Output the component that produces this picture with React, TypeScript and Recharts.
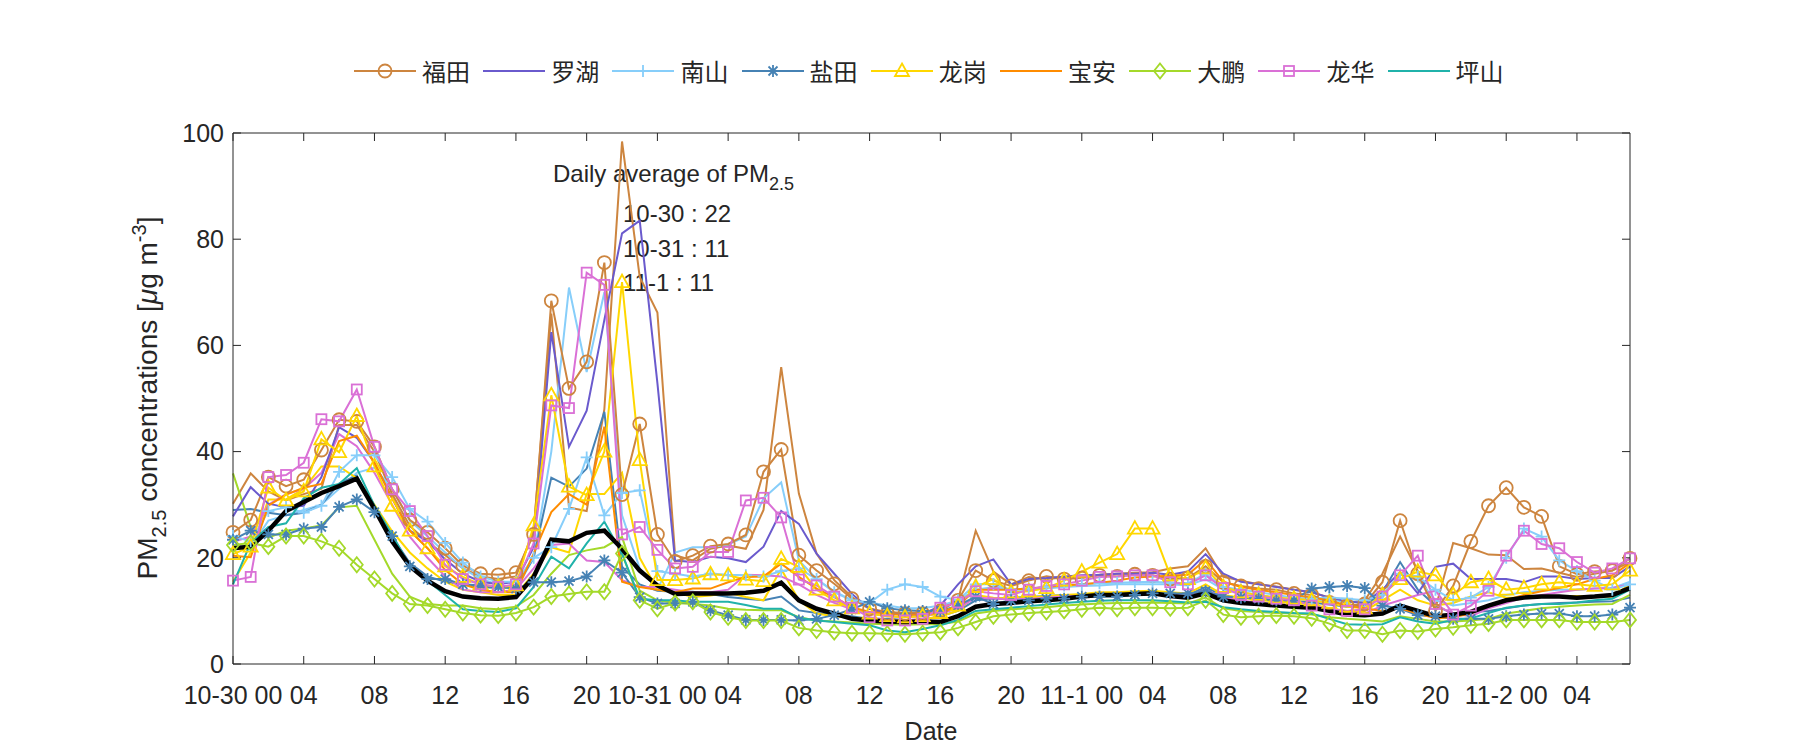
import React from 'react';
import { LineChart, Line, XAxis, YAxis, Customized } from 'recharts';

const FONT = '"Liberation Sans", Arial, sans-serif';
const CJK = '"Noto Sans CJK SC", sans-serif';
const INK = '#262626';

// hourly index from 10-30 00:00 to 11-2 07:00
const hours = Array.from({ length: 80 }, (_, i) => i);
const tickHours = [0, 4, 8, 12, 16, 20, 24, 28, 32, 36, 40, 44, 48, 52, 56, 60, 64, 68, 72, 76];
const tickLabels = [
  '10-30 00', '04', '08', '12', '16', '20',
  '10-31 00', '04', '08', '12', '16', '20',
  '11-1 00', '04', '08', '12', '16', '20',
  '11-2 00', '04',
];
const yTicks = [0, 20, 40, 60, 80, 100];

const futian = [
  24.8, 27.1, 35.2, 33.5, 34.7, 40.3, 46, 45.7, 40.9, 32.9, 27.1, 24.8, 21.8,
  18.5, 17, 16.8, 17.2,
  24.4, 68.4, 51.9, 56.9, 75.6, 31.9, 45.2, 24.4, 19.3,
  20.4, 22.2, 22.6, 24.3, 36.2, 40.4, 20.5, 17.6, 15.1, 12.3, 10.4, 9.5, 9.5, 9.5,
  10, 12, 17.6, 15.7, 14.7, 15.7, 16.5, 16, 16.2, 16.7, 16.5, 16.9, 16.7, 16, 16.2,
  18.4, 15.4, 14.7, 14.2, 14, 13.3, 13, 11.6, 11, 11.3, 15.4, 27, 17,
  10, 14.7, 23.1, 29.8, 33.2, 29.5, 27.8, 18.4, 16.9, 17.4, 17.6, 19.9,
];
const futianB = [
  30.2, 35.9, 32.5, 30.8, 32, 33, 45, 45, 40, 32, 26, 23, 20.5,
  18, 16.5, 16, 16.5,
  25.1, 66, 29.5, 28.8, 48, 98.4, 72.9, 66.2, 20.5,
  19.5, 21.7, 22.3, 21.7, 29, 55.9, 32.1, 20.8, 15.8, 12.6, 10.4, 9.8, 9.6, 9.7,
  10.5, 12, 25.1, 17.4, 15, 16.4, 16, 16.3, 16.5, 16.8, 17, 17.2, 17.3, 18, 18.4,
  21.8, 16.4, 15.7, 15, 14.6, 14, 13.5, 12.5, 11.5, 12, 17, 24, 17.5,
  10.5, 22.8, 21.8, 20.6, 20.5, 17.9, 18, 17.2, 16.4, 17, 17.6, 19.2,
];
const luohu = [
  27.8, 33.3, 30.2, 29.5, 29.8, 35.2, 44.6, 42.6, 37.9, 31.2, 25.1, 23.1, 19.7,
  17, 15.5, 15, 15.5,
  22, 62.5, 40.9, 47.7, 64.8, 81.1, 83.5, 52.9, 19.5,
  19.2, 20.2, 19.9, 19.2, 22.1, 28.8, 26.4, 20.8, 17, 13.2, 10.4, 9.5, 9.3, 9.3,
  11, 15, 18.4, 19.7, 15, 16, 16.2, 16.5, 16.7, 16.8, 17, 17, 17.2, 16.8, 17.4,
  20.7, 17, 15.5, 15, 14.5, 14, 13.5, 12.5, 11.8, 11.5, 14, 17.3, 13.3,
  18.3, 18.9, 16, 16, 16, 15.4, 16.5, 16.5, 16, 16.2, 16.2, 18.4,
];
const nanshan = [
  24.1, 23.1, 28.8, 29.5, 28.5, 29.8, 36.2, 39.3, 39.3, 35.2, 29.2, 26.8, 22.8,
  19.1, 16.5, 15.5, 15.5,
  20, 22, 29.2, 38.9, 28, 32.2, 32.7, 17.5, 17,
  16.5, 17, 16.8, 16.7, 16.5, 17.5, 18, 16, 13.5, 12, 11.5, 14, 15, 14.5,
  12.7, 12, 15, 15, 14, 14.2, 14.5, 14.8, 15, 15.2, 15.3, 15.4, 15.5, 15.3, 15.2,
  17, 14.5, 14, 13.5, 13, 12.5, 12.3, 12.5, 12.3, 12, 13, 17, 16.5,
  14, 12, 12.5, 14.5, 20, 25.5, 24, 19.5, 17.5, 15.7, 14, 15,
];
const nanshanB = [
  22, 22, 27, 28, 29, 30, 33, 36, 37, 33, 27, 24, 21,
  18, 16, 15, 14,
  20, 40, 70.9, 55, 70, 28, 18, 14, 21,
  22, 22, 22.5, 24, 31.2, 34.2, 19.5, 16, 13.7, 12, 11.6, 11, 10.5, 10.5,
  11, 12, 14, 14.5, 14, 14, 14.2, 14.5, 14.7, 14.8, 15, 15, 15, 15, 14.8,
  16, 14, 13.5, 13, 12.5, 12.2, 12, 12, 11.8, 11.5, 12.5, 17, 16,
  12, 11, 11.5, 12, 13, 13.5, 13.8, 14, 14, 14.2, 14.3, 15.5,
];
const yantian = [
  23.4, 25.1, 24.4, 24.4, 25.5, 25.8, 29.6, 31, 28.6, 24.1, 18.4, 16, 16,
  15, 14.8, 14.5, 14.2,
  15.4, 15.4, 15.6, 16.5, 19.5, 17.2, 12.6, 11.4, 11.4,
  11.7, 10.1, 9.2, 8.3, 8.3, 8.3, 8.2, 8.5, 9.2, 10.3, 11.7, 10.5, 10.1, 10,
  10, 11, 12.7, 11.3, 12, 12, 12.3, 12.3, 12.7, 12.7, 12.7, 13, 13.3, 13.3, 13.3,
  13.7, 12.7, 12.5, 12.3, 12, 12, 14.2, 14.5, 14.7, 14.3, 11, 10.4, 9.2,
  9, 8.5, 8.5, 8.5, 9, 9.3, 9.5, 9.5, 9, 9, 9.3, 10.6,
];
const yantianB = [
  29, 29.2, 28.5, 28, 28.5, 30, 34, 35.5, 29, 24, 19, 16.5, 15.5,
  15, 14.5, 14.3, 14.5,
  20, 35.1, 33.4, 36.8, 47.5, 18.3, 15, 13.8, 13.6,
  13.6, 13.2, 12.6, 12.3, 12, 12.7, 10.1, 9.6, 9.3, 9, 8.5, 8.5, 8.3, 8.3,
  9, 10, 12, 12.3, 12.5, 12.6, 12.8, 13, 13, 13.2, 13.3, 13.3, 13.4, 13.2, 13,
  14.5, 12.8, 12.5, 12.3, 12, 11.8, 11.6, 11.2, 10.8, 11, 13.5, 19.2, 14,
  11, 9.5, 9.8, 10, 10.5, 11, 11.3, 11.5, 11.6, 11.7, 11.8, 12.5,
];
const longgang = [
  20.7, 22.1, 33.2, 30.8, 32.5, 42.3, 39.9, 46.7, 37.2, 29.8, 25.1, 21.8, 18.4,
  16.4, 15, 14.5, 14.8,
  26.1, 50.6, 33.4, 31.8, 40, 71.9, 38.4, 15.8, 15.8,
  16.1, 16.9, 16.7, 15.9, 15.6, 19.8, 18.3, 14, 12, 10.5, 9.5, 9, 8.8, 9,
  9.6, 11, 14.5, 16, 13.5, 13.7, 14.3, 15.7, 17.4, 19.1, 20.7, 25.5, 25.5, 16.7, 16,
  18, 14.5, 13.5, 13, 12.5, 12.3, 12, 11.5, 10.8, 10.5, 13, 16, 17.4,
  16.7, 13, 15.4, 16, 14, 14.3, 15, 15.4, 15, 14.7, 15, 17.6,
];
const longgangB = [
  15.5, 21, 31, 31, 33, 37.2, 37.2, 35, 30, 25, 21, 18, 15.5,
  14, 13.5, 13, 13,
  17, 22, 21, 32, 32, 36, 20, 14, 13.5,
  12.6, 12.9, 13.4, 12.6, 12, 17.9, 12, 9.5, 9, 8.7, 8.5, 8.3, 8.2, 8.4,
  9, 10, 13, 12.5, 12.3, 12.5, 12.8, 13, 13.2, 13.5, 13.5, 13.7, 13.8, 13.5, 13.3,
  15, 13, 12.5, 12, 11.8, 11.5, 11.2, 10.5, 10, 10, 12, 14, 12,
  11, 11.5, 12.7, 13.5, 12.5, 12.5, 12.7, 12.8, 12.8, 12.7, 12.7, 15,
];
const baoan = [
  20.4, 20.1, 29.8, 31.9, 33.2, 33.9, 42, 43, 37.9, 31.2, 25.1, 21.8, 17.7,
  15, 14, 13.5, 13.5,
  20.8, 28.6, 32, 30, 44.7, 15.5, 14.5, 14, 13.5,
  14.2, 14.2, 15.4, 16.4, 16.5, 18.9, 16.4, 14.2, 12.6, 10.7, 9.8, 9.5, 9.2, 9.4,
  9.6, 11, 14, 14, 14, 14.2, 14.5, 14.8, 15, 15.3, 15.7, 16.3, 16.5, 16.6, 16.8,
  19.7, 15.5, 14.5, 14, 13.5, 13, 12.5, 12, 11, 10.5, 10, 10.5, 9.5,
  8.6, 8.8, 9.5, 11, 12, 13, 13.7, 14.3, 15, 16, 16.7, 19,
];
const dapeng = [
  22.4, 22.8, 22.1, 24.1, 24.1, 23.1, 21.8, 18.7, 16, 13.3, 11.3, 11, 10.3,
  9.6, 9.2, 9.1, 9.6,
  10.7, 12.7, 13.2, 13.6, 13.6, 20.8, 12, 10.4, 11.5,
  11.7, 9.8, 8.8, 8.2, 8.2, 8.2, 6.8, 6.3, 6, 5.8, 5.8, 5.7, 5.6, 5.8,
  6, 6.8, 7.9, 9, 9.3, 9.6, 9.8, 10, 10.3, 10.6, 10.4, 10.6, 10.6, 10.5, 10.6,
  12, 9.3, 8.8, 9, 9.1, 9, 8.6, 7.6, 6.3, 6.3, 5.6, 6.3, 6.1,
  6.6, 6.9, 7.3, 7.6, 8.3, 8.3, 8.3, 8.3, 7.9, 7.9, 7.9, 8.3,
];
const dapengB = [
  35.9, 25.8, 23.8, 25.1, 25.5, 26.1, 29.5, 29.8, 23.4, 17, 12.7, 11.3, 11,
  11, 10.5, 10.3, 10.8,
  13, 17, 20.5, 21.4, 22, 23.9, 13.8, 12, 11.5,
  11.3, 11, 10.4, 10.2, 10.1, 10.1, 8.8, 8.2, 8, 7.8, 7.6, 7.5, 7.4, 7.5,
  7.5, 8, 9.5, 10, 10.3, 10.5, 10.7, 11, 11.2, 11.4, 11.5, 11.5, 11.6, 11.5, 11.4,
  12.5, 10.5, 10, 9.8, 9.6, 9.5, 9.3, 8.8, 8.5, 8.3, 8, 9, 8.5,
  8, 8, 8.2, 8.5, 9.5, 10, 10.5, 10.8, 11, 11.2, 11.3, 13,
];
const longhua = [
  15.7, 16.4, 35.2, 35.6, 37.9, 46.1, 45.7, 51.7, 40.9, 32.9, 28.8, 24.1, 18.7,
  16, 15, 14.5, 15,
  22.7, 48.7, 48.2, 73.7, 71.4, 24.4, 25.8, 21.5, 18,
  18.3, 21.1, 21.1, 30.8, 31.3, 27.6, 15.9, 14.8, 12.7, 10.6, 8.8, 8.2, 8.2, 8.5,
  10.6, 11.6, 13.7, 13.3, 13, 14, 14.7, 15, 15.7, 16.4, 16.5, 16.7, 16.7, 15.4, 15,
  16.7, 14.3, 13, 12.7, 12.3, 12, 11, 10.3, 10, 10.3, 12.7, 16.7, 20.4,
  11.3, 9.3, 11, 13.8, 20.4, 25.1, 22.6, 21.8, 19.2, 17.2, 18, 19.9,
];
const longhuaB = [
  23, 24, 30, 32, 33, 36, 43.3, 41, 36, 30, 24, 20, 16.5,
  14, 13.5, 13.5, 14,
  18, 22.4, 22.7, 19.5, 19.2, 15.8, 14.5, 14.5, 14,
  13.5, 13.5, 14, 16.8, 16.7, 16.5, 15, 13, 11.5, 10.3, 9.5, 9, 8.8, 9,
  9.5, 10.5, 12.5, 12.3, 12.2, 12.3, 12.5, 12.7, 12.8, 13, 13, 13.2, 13.2, 13, 12.8,
  14, 12.5, 12, 11.5, 11.3, 11, 10.7, 10.3, 9.8, 9.5, 11, 12, 13,
  13.8, 9.5, 9, 10.5, 11.5, 12.5, 13, 13.5, 14, 14.2, 14.3, 15,
];
const pingshan = [
  15, 22.8, 25.8, 26.5, 31.2, 33.2, 33.9, 36.9, 29.8, 24.4, 18.4, 15.7, 13,
  10.3, 10, 9.8, 10.5,
  14.5, 20.2, 18, 22.7, 26.8, 20.8, 12.3, 12, 12,
  11.7, 11.7, 11.7, 11.1, 10.4, 10.4, 8.7, 8.2, 7.9, 7.6, 7.3, 6.3, 6, 6.6,
  7.3, 8.3, 10, 10.3, 10.6, 10.9, 11.2, 11.5, 11.7, 11.9, 12, 12, 12, 11.8, 11.6,
  11.7, 10.7, 10.3, 10, 9.8, 9.6, 9.5, 8.5, 7.5, 7.4, 7.5, 8.8, 8,
  7.6, 8.3, 8.6, 9.6, 10.6, 11, 11.3, 11.3, 11.6, 12, 12.3, 14,
];
const average = [
  21.8, 22.1, 25.1, 28.8, 30.5, 32.2, 33.5, 34.9, 29.2, 23.1, 18.4, 15.7, 13.7,
  12.7, 12.4, 12.3, 12.6,
  16.4, 23.4, 23.1, 24.7, 25.1, 21.7, 17.6, 14.8, 13.2,
  13.3, 13.3, 13.3, 13.4, 13.8, 15.3, 12, 10.4, 9.5, 8.5, 8.2, 8, 7.9, 8,
  7.9, 9, 10.8, 11.3, 11.5, 11.8, 12, 12.3, 12.7, 13, 13, 13.2, 13.3, 12.8, 12.5,
  13.3, 12, 11.5, 11.3, 11, 10.8, 10.6, 10, 9.3, 9.2, 9.5, 11, 10,
  9, 9.3, 9.8, 11, 12, 12.5, 12.7, 12.7, 12.5, 12.7, 13, 14.3,
];

type Shape = 'circle' | 'plus' | 'star' | 'triangle' | 'diamond' | 'square' | 'none';

interface SeriesDef {
  key: string;
  name?: string;
  color: string;
  marker: Shape;
  width: number;
  values: number[];
}

const GREEN = '#A4D92A';

// drawing order: extra stations first, named districts, then the average
const seriesDefs: SeriesDef[] = [
  { key: 'futianB', color: '#CD853F', marker: 'none', width: 2, values: futianB },
  { key: 'nanshanB', color: '#87CEFA', marker: 'none', width: 2, values: nanshanB },
  { key: 'yantianB', color: '#4682B4', marker: 'none', width: 2, values: yantianB },
  { key: 'longgangB', color: '#FFD700', marker: 'none', width: 2, values: longgangB },
  { key: 'dapengB', color: GREEN, marker: 'none', width: 2, values: dapengB },
  { key: 'longhuaB', color: '#DA70D6', marker: 'none', width: 2, values: longhuaB },
  { key: 'futian', name: '福田', color: '#CD853F', marker: 'circle', width: 2, values: futian },
  { key: 'luohu', name: '罗湖', color: '#6A5ACD', marker: 'none', width: 2, values: luohu },
  { key: 'nanshan', name: '南山', color: '#87CEFA', marker: 'plus', width: 2, values: nanshan },
  { key: 'yantian', name: '盐田', color: '#4682B4', marker: 'star', width: 2, values: yantian },
  { key: 'longgang', name: '龙岗', color: '#FFD700', marker: 'triangle', width: 2, values: longgang },
  { key: 'baoan', name: '宝安', color: '#FF8C00', marker: 'none', width: 2, values: baoan },
  { key: 'dapeng', name: '大鹏', color: GREEN, marker: 'diamond', width: 2, values: dapeng },
  { key: 'longhua', name: '龙华', color: '#DA70D6', marker: 'square', width: 2, values: longhua },
  { key: 'pingshan', name: '坪山', color: '#20B2AA', marker: 'none', width: 2, values: pingshan },
  { key: 'avg', color: '#000000', marker: 'none', width: 4.5, values: average },
];

const rows = hours.map((h, i) => {
  const row: Record<string, number> = { h };
  seriesDefs.forEach(s => { row[s.key] = s.values[i]; });
  return row;
});

const fmtHour = (v: number) => tickLabels[tickHours.indexOf(v)] ?? '';

function Marker({ shape, cx, cy, color }: { shape: Shape; cx: number; cy: number; color: string }) {
  const common = { fill: 'none', stroke: color, strokeWidth: 1.8 };
  switch (shape) {
    case 'circle':
      return <circle cx={cx} cy={cy} r={6.5} {...common} />;
    case 'square':
      return <rect x={cx - 5} y={cy - 5} width={10} height={10} {...common} />;
    case 'triangle':
      return <path d={`M${cx},${cy - 7.5} L${cx + 7},${cy + 5} L${cx - 7},${cy + 5} Z`} {...common} />;
    case 'diamond':
      return <path d={`M${cx},${cy - 7.5} L${cx + 6},${cy} L${cx},${cy + 7.5} L${cx - 6},${cy} Z`} {...common} />;
    case 'plus':
      return <path d={`M${cx - 6},${cy} H${cx + 6} M${cx},${cy - 6} V${cy + 6}`} {...common} />;
    case 'star':
      return (
        <path
          d={`M${cx - 6},${cy} H${cx + 6} M${cx},${cy - 6} V${cy + 6} M${cx - 4.5},${cy - 4.5} L${cx + 4.5},${cy + 4.5} M${cx - 4.5},${cy + 4.5} L${cx + 4.5},${cy - 4.5}`}
          {...common}
        />
      );
    default:
      return null;
  }
}

const makeDot = (s: SeriesDef) => (p: any) => {
  if (p.cx == null || p.cy == null) return <g key={`${s.key}-${p.index}`} />;
  return (
    <g key={`${s.key}-${p.index}`}>
      <Marker shape={s.marker} cx={p.cx} cy={p.cy} color={s.color} />
    </g>
  );
};

const Overlay = () => (
  <g fontFamily={FONT} fill={INK}>
    <text transform="translate(157,398) rotate(-90)" textAnchor="middle" fontSize={28}>
      PM<tspan fontSize={20} dy={9}>2.5</tspan>
      <tspan dy={-9}> concentrations [</tspan>
      <tspan fontStyle="italic">μ</tspan>g m<tspan fontSize={20} dy={-11}>-3</tspan>
      <tspan dy={11}>]</tspan>
    </text>
    <text x={931} y={740} textAnchor="middle" fontSize={25}>Date</text>
    <text x={553} y={182} fontSize={24}>
      Daily average of PM<tspan fontSize={18} dy={8}>2.5</tspan>
    </text>
    <text x={623} y={222} fontSize={24}>10-30 : 22</text>
    <text x={623} y={257} fontSize={24}>10-31 : 11</text>
    <text x={623} y={291} fontSize={24}>11-1 : 11</text>
  </g>
);

const legendItems = seriesDefs.filter(s => s.name);

const LegendBox = () => (
  <div style={{ position: 'absolute', left: 0, top: 0, width: 1800, height: 100, pointerEvents: 'none' }}>
    {legendItems.map((s, k) => (
      <div
        key={s.key}
        style={{ position: 'absolute', left: 354 + k * 129.2, top: 56, height: 30, display: 'flex', alignItems: 'center' }}
      >
        <svg width={62} height={30}>
          <line x1={0} y1={15} x2={62} y2={15} stroke={s.color} strokeWidth={2} />
          <Marker shape={s.marker} cx={31} cy={15} color={s.color} />
        </svg>
        <span style={{ marginLeft: 6, fontFamily: CJK, fontSize: 24, color: INK, lineHeight: '30px' }}>{s.name}</span>
      </div>
    ))}
  </div>
);

export default function App() {
  const axisStyle = { stroke: INK, strokeWidth: 1 };
  const tickStyle = { fill: INK, fontSize: 25, fontFamily: FONT };
  return (
    <div style={{ position: 'absolute', left: 0, top: 0, width: 1800, height: 750, background: '#fff' }}>
      <LineChart width={1800} height={750} data={rows} margin={{ top: 123, right: 160, bottom: 46, left: 173 }}>
        <XAxis
          dataKey="h" type="number" domain={[0, 79]} ticks={tickHours} interval={0}
          tickFormatter={fmtHour} tickSize={-8} tickMargin={30} height={40}
          axisLine={axisStyle} tickLine={axisStyle} tick={tickStyle}
        />
        <XAxis
          xAxisId="top" orientation="top" dataKey="h" type="number" domain={[0, 79]} ticks={tickHours}
          interval={0} tickFormatter={() => ''} tickSize={-8} height={10}
          axisLine={axisStyle} tickLine={axisStyle}
        />
        <YAxis
          type="number" domain={[0, 100]} ticks={yTicks} interval={0} tickSize={-8} tickMargin={17}
          width={60} axisLine={axisStyle} tickLine={axisStyle} tick={tickStyle}
        />
        <YAxis
          yAxisId="right" orientation="right" type="number" domain={[0, 100]} ticks={yTicks} interval={0}
          tickFormatter={() => ''} tickSize={-8} width={10} axisLine={axisStyle} tickLine={axisStyle}
        />
        {seriesDefs.map(s => (
          <Line
            key={s.key}
            dataKey={s.key}
            type="linear"
            stroke={s.color}
            strokeWidth={s.width}
            dot={s.marker === 'none' ? false : makeDot(s)}
            activeDot={false}
            isAnimationActive={false}
            legendType="none"
          />
        ))}
        <Line
          xAxisId="top" yAxisId="right" dataKey="avg" stroke="none" dot={false}
          activeDot={false} isAnimationActive={false} legendType="none"
        />
        <Customized component={Overlay} />
      </LineChart>
      <LegendBox />
    </div>
  );
}
